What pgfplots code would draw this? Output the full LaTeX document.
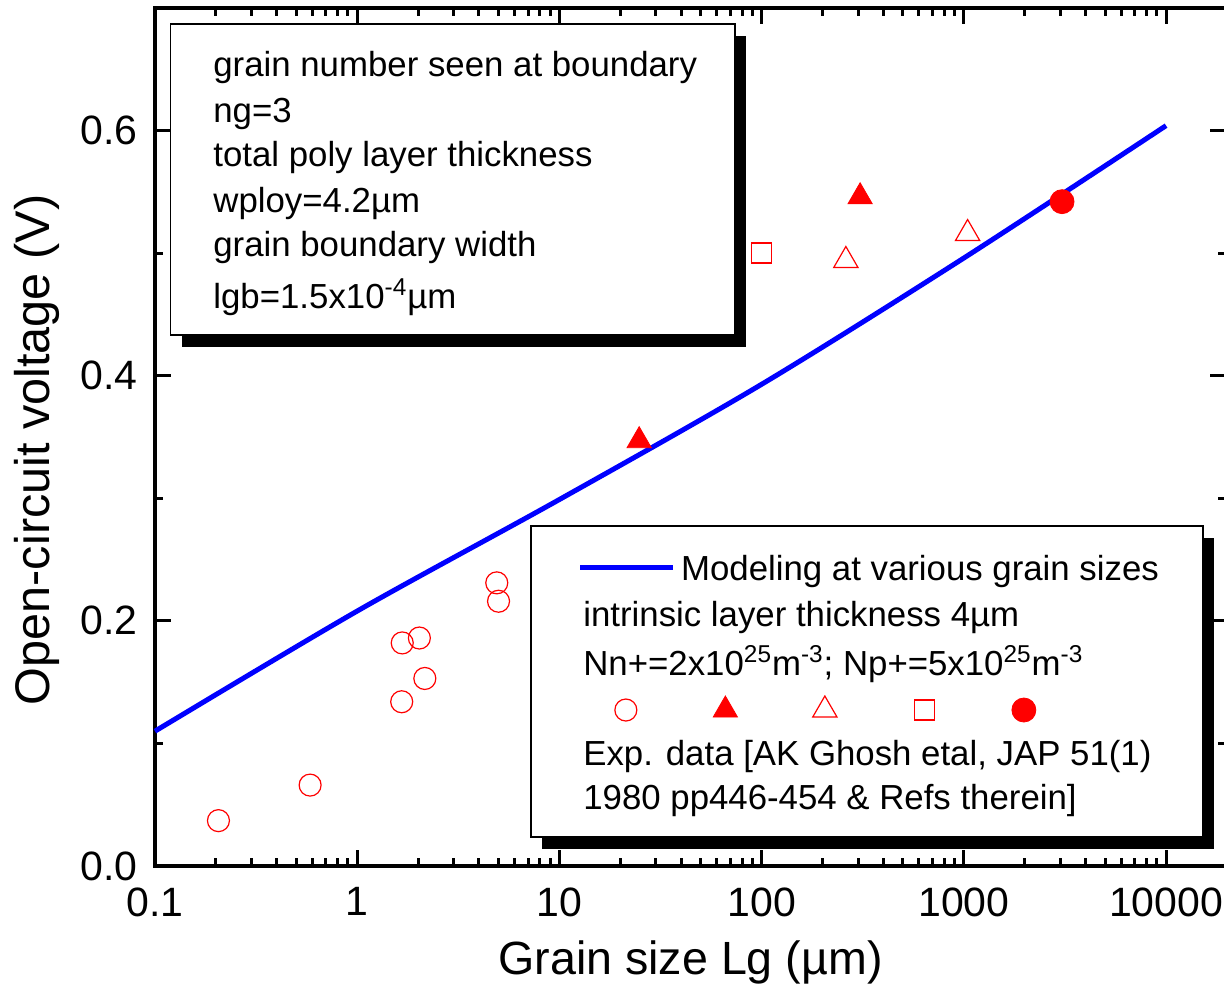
\documentclass[border=0pt]{standalone}
\usepackage{pgfplots}
\pgfplotsset{compat=1.18}
\usepackage{fontspec}
\setmainfont{Liberation Sans}
\definecolor{pblue}{RGB}{0,0,255}
\definecolor{pred}{RGB}{255,0,0}
\newcommand\bx{\fontsize{17.4pt}{21pt}\selectfont}
\newcommand\tk{\fontsize{20.5pt}{24pt}\selectfont}
\begin{document}
\begin{tikzpicture}
\begin{axis}[
  name=ax,
  scale only axis, width=535.5pt, height=429pt,
  xmode=log, xmin=0.1, xmax=19800, ymin=0, ymax=0.7,
  xtick={0.1,1,10,100,1000,10000},
  xticklabels={0.1,1,10,100,1000,10000},
  ytick={0,0.2,0.4,0.6}, yticklabels={0.0,0.2,0.4,0.6},
  minor ytick={0.1,0.3,0.5},
  tick align=inside, xtick pos=both, ytick pos=both,
  xticklabel pos=lower, yticklabel pos=left,
  axis line style={line width=2pt},
  every tick/.style={black, line width=1.5pt},
  major tick length=8pt, minor tick length=4pt,
  xticklabel style={font=\tk, inner sep=0pt, anchor=north, yshift=-10.5pt},
  yticklabel style={font=\tk, inner sep=0pt, anchor=east, xshift=-8.5pt},
  xlabel={Grain size Lg (µm)},
  xlabel style={font=\fontsize{23.3pt}{28pt}\selectfont, at={(rel axis cs:0.5,0)}, anchor=north, yshift=-37pt, inner sep=0pt},
  ylabel={Open-circuit voltage (V)},
  ylabel style={font=\fontsize{24.3pt}{28pt}\selectfont, at={(rel axis cs:-0.0887,0.485)}, rotate=0, anchor=south, inner sep=0pt},
  clip=false,
  mk/.style={only marks, legend image code/.code={\path[draw=none,fill=none] (0pt,-8pt) rectangle (20pt,8pt); \draw[mark repeat=2,mark phase=2,##1] plot coordinates {(0pt,0pt) (10pt,0pt) (20pt,0pt)};}},
  legend columns=5,
  legend style={at={(rel axis cs:0.4206,0.1818)}, anchor=west, draw=none, fill=none, inner sep=0pt, column sep=0pt, nodes={inner sep=0pt}, /tikz/every even column/.append style={column sep=28.75pt}},
]
\coordinate (o) at (rel axis cs:0,0);
\coordinate (tr) at (rel axis cs:1,1);
% model line
\addplot[pblue, line width=2.5pt, smooth, tension=0.5, forget plot] coordinates {
 (0.1,0.110) (1,0.208) (10,0.299) (100,0.393) (1000,0.496) (10000,0.604)};
% boxes
\fill[black] (rel axis cs:0.02484,0.6049) rectangle (rel axis cs:0.5519,0.9674);
\draw[black, line width=0.8pt, fill=white] (rel axis cs:0.01457,0.6189) rectangle (rel axis cs:0.5416,0.9814);
\fill[black] (rel axis cs:0.3614,0.0198) rectangle (rel axis cs:0.9888,0.3823);
\draw[black, line width=0.8pt, fill=white] (rel axis cs:0.3511,0.0338) rectangle (rel axis cs:0.9785,0.3963);
% box 1 text
\node[anchor=base west, inner sep=0pt, font=\bx] at (rel axis cs:0.05416,0.9196) {grain number seen at boundary};
\node[anchor=base west, inner sep=0pt, font=\bx] at (rel axis cs:0.05416,0.8660) {ng=3};
\node[anchor=base west, inner sep=0pt, font=\bx] at (rel axis cs:0.05416,0.8147) {total poly layer thickness};
\node[anchor=base west, inner sep=0pt, font=\bx] at (rel axis cs:0.05416,0.7622) {wploy=4.2µm};
\node[anchor=base west, inner sep=0pt, font=\bx] at (rel axis cs:0.05416,0.7098) {grain boundary width};
\node[anchor=base west, inner sep=0pt, font=\bx] at (rel axis cs:0.05416,0.6503) {lgb=1.5x10\textsuperscript{-4}µm};
% box 2 text
\node[anchor=base west, inner sep=0pt, font=\bx] at (rel axis cs:0.3968,0.3333) {{\color{pblue}\rule[4.9pt]{46.5pt}{2.5pt}}\hspace{3.85pt}Modeling at various grain sizes};
\node[anchor=base west, inner sep=0pt, font=\bx] at (rel axis cs:0.3996,0.2797) {intrinsic layer thickness 4µm};
\node[anchor=base west, inner sep=0pt, font=\bx] at (rel axis cs:0.3996,0.2226) {Nn+=2x10\textsuperscript{25}m\textsuperscript{-3}; Np+=5x10\textsuperscript{25}m\textsuperscript{-3}};
\node[anchor=base west, inner sep=0pt, font=\bx] at (rel axis cs:0.3996,0.1177) {Exp. data [AK Ghosh etal, JAP 51(1)};
\node[anchor=base west, inner sep=0pt, font=\bx] at (rel axis cs:0.3996,0.0664) {1980 pp446-454 \& Refs therein]};
% experimental data
\addplot[color=pred, mk, mark=o, mark size=5.5pt, mark options={draw=pred, line width=0.6pt}] coordinates {
 (0.206,0.037) (0.585,0.066) (1.66,0.134) (1.67,0.182) (2.03,0.186) (2.16,0.153) (4.90,0.231) (5.0,0.216)};
\addlegendentry{}
\addplot[color=pred, mk, mark=triangle*, mark size=7pt, mark options={draw=pred, fill=pred}] coordinates {
 (24.8,0.347) (307,0.546)};
\addlegendentry{}
\addplot[color=pred, mk, mark=triangle, mark size=7pt, mark options={draw=pred, line width=0.6pt}] coordinates {
 (261,0.494) (1044,0.516)};
\addlegendentry{}
\addplot[color=pred, draw=pred, mk, mark=square, mark size=5pt, mark options={solid, color=pred, draw=pred, fill=none, line width=0.7pt}] coordinates {
 (100,0.500)};
\addlegendentry{}
\addplot[color=pred, mk, mark=*, mark size=6pt, mark options={draw=pred, fill=pred}] coordinates {
 (3060,0.542)};
\addlegendentry{}
\end{axis}
\pgfresetboundingbox
\path ([shift={(-77.5pt,-59pt)}]o) rectangle ([shift={(-1pt,4pt)}]tr);
\end{tikzpicture}
\end{document}
